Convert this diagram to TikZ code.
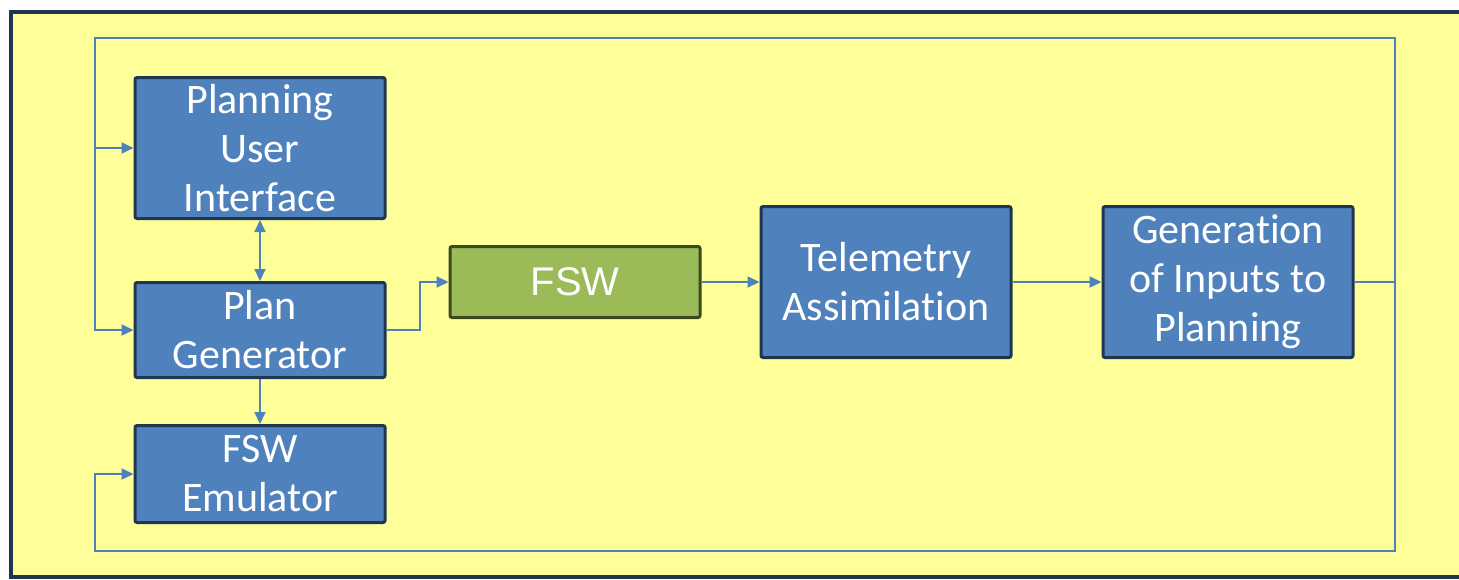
\documentclass[tikz,border=0pt]{standalone}
\usepackage{fontspec}
\setmainfont[Ligatures=NoCommon]{Carlito}
\newfontfamily\arialfont{Liberation Sans}
\usetikzlibrary{positioning,arrows.meta,calc}
\definecolor{blockblue}{HTML}{4F81BD}
\definecolor{blockedge}{HTML}{1F3550}
\definecolor{fswgreen}{HTML}{9BBB59}
\definecolor{fswedge}{HTML}{3B4A1E}
\definecolor{panel}{HTML}{FFFF99}

\begin{document}
\begin{tikzpicture}[
		x=1pt, y=-1pt,
		font=\fontsize{42}{49}\selectfont,
		blk/.style={draw=blockedge, line width=3pt, rounded corners=2pt, fill=blockblue,
				text=white, align=center, minimum width=250pt, inner sep=0pt},
		fswblk/.style={blk, draw=fswedge, fill=fswgreen,
				font=\arialfont\fontsize{40}{48}\selectfont},
		arr/.style={-{Triangle[length=12pt, width=11pt]}, draw=blockblue, line width=2pt},
		]
		\useasboundingbox (0,0) rectangle (1459,579);
		% yellow panel
		\draw[draw=blockedge, line width=4pt, fill=panel] (11,12) rectangle (1475,577);

		\node[blk, minimum height=141pt] (pui) at (260,148)
		{Planning\\User\\Interface};
		\node[blk, minimum height=95pt, below=61pt of pui] (plangen)
		{Plan\\Generator};
		\node[blk, minimum height=97pt, below=45pt of plangen] (emu)
		{FSW\\Emulator};
		\node[fswblk, minimum height=71pt] (fsw) at (575,282) {FSW};
		\node[blk, minimum height=151pt, right=58pt of fsw] (tele)
		{Telemetry\\Assimilation};
		\node[blk, minimum height=151pt, right=89pt of tele]
		(geninp) {Generation\\of Inputs to\\Planning};

		% feedback loop corners
		\coordinate (lt) at (95,38);
		\coordinate (rt) at (1395,38);
		\coordinate (rb) at (1395,551);
		\coordinate (lb) at (95,551);

		\draw[arr] (geninp.east) -| (rt) -- (lt) |- (plangen.west);
		\draw[arr] (lt |- pui.west) -- (pui.west);
		\draw[arr] (geninp.east -| rb) -- (rb) -- (lb) |- (emu.west);

		\draw[arr, {Triangle[length=12pt, width=11pt]}-{Triangle[length=12pt, width=11pt]}]
		(pui) -- (plangen);
		\draw[arr] (plangen) -- (emu);
		\draw[arr] (plangen.east) -- ++(33,0) |- (fsw.west);
		\draw[arr] (fsw) -- (tele);
		\draw[arr] (tele) -- (geninp);
	\end{tikzpicture}
\end{document}
